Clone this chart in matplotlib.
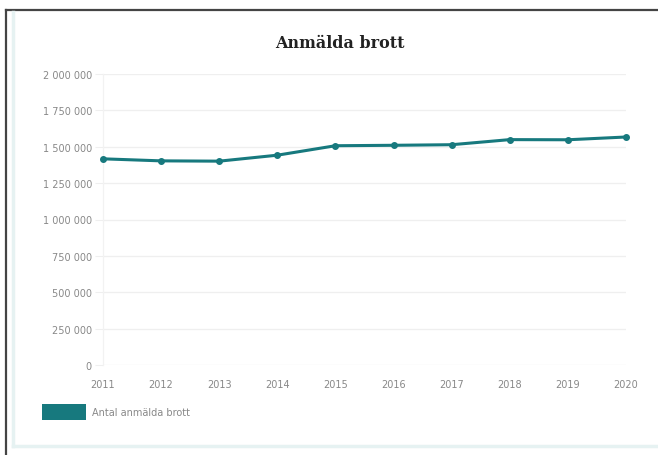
import matplotlib
matplotlib.use("Agg")
import matplotlib.pyplot as plt
from matplotlib.lines import Line2D
from matplotlib.patches import Rectangle

years = [2011, 2012, 2013, 2014, 2015, 2016, 2017, 2018, 2019, 2020]
values = [1417000, 1403000, 1401000, 1442000, 1507000, 1510000, 1514000, 1549000, 1548000, 1567000]
yticks = [0, 250000, 500000, 750000, 1000000, 1250000, 1500000, 1750000, 2000000]
title = "Anmälda brott"
series_label = "Antal anmälda brott"

W, H = 658, 456
teal = "#17797e"
fig = plt.figure(figsize=(W / 100, H / 100), dpi=100)

# outer frame
fig.add_artist(Line2D([6 / W, 1], [1 - 11 / H, 1 - 11 / H], color="#444444", lw=1.6, transform=fig.transFigure))
fig.add_artist(Line2D([6 / W, 6 / W], [0, 1 - 11 / H], color="#444444", lw=1.6, transform=fig.transFigure))
fig.add_artist(Line2D([13 / W, 13 / W], [1 - 447 / H, 1 - 13 / H], color="#e6f2f2", lw=2.5, transform=fig.transFigure))
fig.add_artist(Line2D([13 / W, 1], [1 - 447 / H, 1 - 447 / H], color="#e6f2f2", lw=2.5, transform=fig.transFigure))

ax = fig.add_axes([103 / W, 90 / H, (626 - 103) / W, (366 - 75) / H])
ax.plot(years, values, color=teal, lw=2.2, marker="o", ms=4, zorder=3, clip_on=False)
ax.set_xlim(years[0], years[-1])
ax.set_ylim(0, 2000000)
ax.set_xticks(years)
ax.set_xticklabels([str(y) for y in years])
ax.set_yticks(yticks)
ax.set_yticklabels([f"{v:,}".replace(",", " ") for v in yticks])
ax.grid(True, axis="y", color="#efefef", lw=0.9)
for s in ax.spines.values():
    s.set_visible(False)
ax.spines["left"].set_visible(True)
ax.spines["left"].set_color("#f2f2f2")
ax.spines["left"].set_linewidth(0.9)
ax.tick_params(axis="y", length=6, color="#efefef", labelsize=7, labelcolor="#888888", pad=2)
ax.tick_params(axis="x", length=0, labelsize=7, labelcolor="#888888", pad=10)

fig.text(340 / W, 1 - 43 / H, title, ha="center", va="center", fontsize=11.5,
         fontweight="bold", family="DejaVu Serif", color="#222222")

fig.add_artist(Rectangle((42 / W, 1 - 421 / H), 44 / W, 16 / H, facecolor=teal,
                         edgecolor="none", transform=fig.transFigure))
fig.text(92 / W, 1 - 413 / H, series_label, ha="left", va="center", fontsize=7, color="#888888")

fig.savefig("out.png", dpi=100)
